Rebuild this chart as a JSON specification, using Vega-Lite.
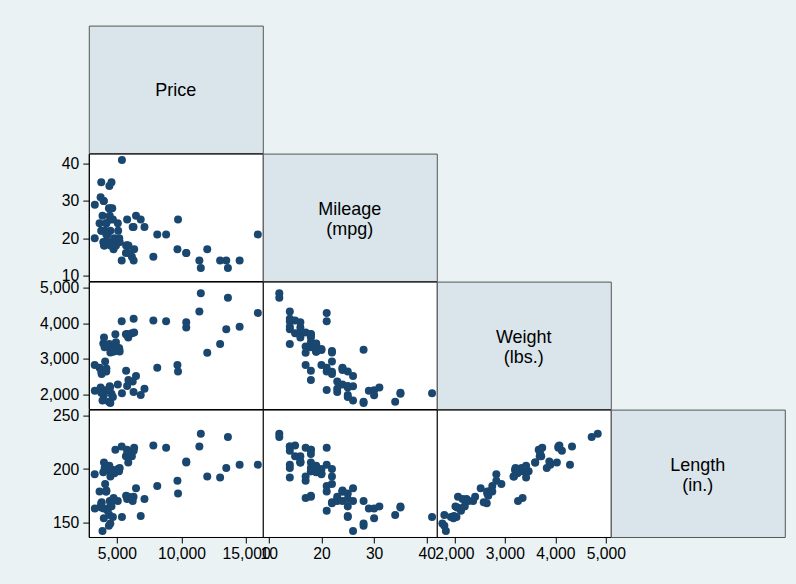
{
  "$schema": "https://vega.github.io/schema/vega-lite/v6.json",
  "background": "#eaf2f3",
  "padding": {"left": 38.8, "top": 24.6, "right": 12, "bottom": 24},
  "columns": 4,
  "spacing": 0,
  "bounds": "flush",
  "datasets": {
    "auto": [
      {"make": "AMC Concord", "price": 4099, "mpg": 22, "weight": 2930, "length": 186},
      {"make": "AMC Pacer", "price": 4749, "mpg": 17, "weight": 3350, "length": 173},
      {"make": "AMC Spirit", "price": 3799, "mpg": 22, "weight": 2640, "length": 168},
      {"make": "Buick Century", "price": 4816, "mpg": 20, "weight": 3250, "length": 196},
      {"make": "Buick Electra", "price": 7827, "mpg": 15, "weight": 4080, "length": 222},
      {"make": "Buick LeSabre", "price": 5788, "mpg": 18, "weight": 3670, "length": 218},
      {"make": "Buick Opel", "price": 4453, "mpg": 26, "weight": 2230, "length": 170},
      {"make": "Buick Regal", "price": 5189, "mpg": 20, "weight": 3280, "length": 200},
      {"make": "Buick Riviera", "price": 10372, "mpg": 16, "weight": 3880, "length": 207},
      {"make": "Buick Skylark", "price": 4082, "mpg": 19, "weight": 3400, "length": 200},
      {"make": "Cad. Deville", "price": 11385, "mpg": 14, "weight": 4330, "length": 221},
      {"make": "Cad. Eldorado", "price": 14500, "mpg": 14, "weight": 3900, "length": 204},
      {"make": "Cad. Seville", "price": 15906, "mpg": 21, "weight": 4290, "length": 204},
      {"make": "Chev. Chevette", "price": 3299, "mpg": 29, "weight": 2110, "length": 163},
      {"make": "Chev. Impala", "price": 5705, "mpg": 16, "weight": 3690, "length": 212},
      {"make": "Chev. Malibu", "price": 4504, "mpg": 22, "weight": 3180, "length": 193},
      {"make": "Chev. Monte Carlo", "price": 5104, "mpg": 22, "weight": 3220, "length": 200},
      {"make": "Chev. Monza", "price": 3667, "mpg": 24, "weight": 2750, "length": 179},
      {"make": "Chev. Nova", "price": 3955, "mpg": 19, "weight": 3430, "length": 197},
      {"make": "Dodge Colt", "price": 3984, "mpg": 30, "weight": 2120, "length": 163},
      {"make": "Dodge Diplomat", "price": 4010, "mpg": 18, "weight": 3600, "length": 206},
      {"make": "Dodge Magnum", "price": 5886, "mpg": 16, "weight": 3600, "length": 206},
      {"make": "Dodge St. Regis", "price": 6342, "mpg": 17, "weight": 3740, "length": 220},
      {"make": "Ford Fiesta", "price": 4389, "mpg": 28, "weight": 1800, "length": 147},
      {"make": "Ford Mustang", "price": 4187, "mpg": 21, "weight": 2650, "length": 179},
      {"make": "Linc. Continental", "price": 11497, "mpg": 12, "weight": 4840, "length": 233},
      {"make": "Linc. Mark V", "price": 13594, "mpg": 12, "weight": 4720, "length": 230},
      {"make": "Linc. Versailles", "price": 13466, "mpg": 14, "weight": 3830, "length": 201},
      {"make": "Merc. Bobcat", "price": 3829, "mpg": 22, "weight": 2580, "length": 169},
      {"make": "Merc. Cougar", "price": 5379, "mpg": 14, "weight": 4060, "length": 221},
      {"make": "Merc. Marquis", "price": 6165, "mpg": 15, "weight": 3720, "length": 212},
      {"make": "Merc. Monarch", "price": 4516, "mpg": 18, "weight": 3370, "length": 198},
      {"make": "Merc. XR-7", "price": 6303, "mpg": 14, "weight": 4130, "length": 217},
      {"make": "Merc. Zephyr", "price": 3291, "mpg": 20, "weight": 2830, "length": 195},
      {"make": "Olds 98", "price": 8814, "mpg": 21, "weight": 4060, "length": 220},
      {"make": "Olds Cutl Supr", "price": 5172, "mpg": 19, "weight": 3310, "length": 198},
      {"make": "Olds Cutlass", "price": 4733, "mpg": 19, "weight": 3300, "length": 198},
      {"make": "Olds Delta 88", "price": 4890, "mpg": 18, "weight": 3690, "length": 218},
      {"make": "Olds Omega", "price": 4181, "mpg": 19, "weight": 3370, "length": 200},
      {"make": "Olds Starfire", "price": 4195, "mpg": 24, "weight": 2730, "length": 180},
      {"make": "Olds Toronado", "price": 10371, "mpg": 16, "weight": 4030, "length": 206},
      {"make": "Plym. Arrow", "price": 4647, "mpg": 28, "weight": 3260, "length": 170},
      {"make": "Plym. Champ", "price": 4425, "mpg": 34, "weight": 1800, "length": 157},
      {"make": "Plym. Horizon", "price": 4482, "mpg": 25, "weight": 2200, "length": 165},
      {"make": "Plym. Sapporo", "price": 6486, "mpg": 26, "weight": 2520, "length": 182},
      {"make": "Plym. Volare", "price": 4060, "mpg": 18, "weight": 3330, "length": 201},
      {"make": "Pont. Catalina", "price": 5798, "mpg": 18, "weight": 3700, "length": 214},
      {"make": "Pont. Firebird", "price": 4934, "mpg": 18, "weight": 3470, "length": 198},
      {"make": "Pont. Grand Prix", "price": 5222, "mpg": 19, "weight": 3210, "length": 201},
      {"make": "Pont. Le Mans", "price": 4723, "mpg": 19, "weight": 3200, "length": 199},
      {"make": "Pont. Phoenix", "price": 4424, "mpg": 19, "weight": 3420, "length": 203},
      {"make": "Pont. Sunbird", "price": 4172, "mpg": 24, "weight": 2690, "length": 179},
      {"make": "Audi 5000", "price": 9690, "mpg": 17, "weight": 2830, "length": 189},
      {"make": "Audi Fox", "price": 6295, "mpg": 23, "weight": 2070, "length": 174},
      {"make": "BMW 320i", "price": 9735, "mpg": 25, "weight": 2650, "length": 177},
      {"make": "Datsun 200", "price": 6229, "mpg": 23, "weight": 2370, "length": 170},
      {"make": "Datsun 210", "price": 4589, "mpg": 35, "weight": 2020, "length": 165},
      {"make": "Datsun 510", "price": 5079, "mpg": 24, "weight": 2280, "length": 170},
      {"make": "Datsun 810", "price": 8129, "mpg": 21, "weight": 2750, "length": 184},
      {"make": "Fiat Strada", "price": 4296, "mpg": 21, "weight": 2130, "length": 161},
      {"make": "Honda Accord", "price": 5799, "mpg": 25, "weight": 2240, "length": 172},
      {"make": "Honda Civic", "price": 4499, "mpg": 28, "weight": 1760, "length": 149},
      {"make": "Mazda GLC", "price": 3995, "mpg": 30, "weight": 1980, "length": 154},
      {"make": "Peugeot 604", "price": 12990, "mpg": 14, "weight": 3420, "length": 192},
      {"make": "Renault Le Car", "price": 3895, "mpg": 26, "weight": 1830, "length": 142},
      {"make": "Subaru", "price": 3798, "mpg": 35, "weight": 2050, "length": 164},
      {"make": "Toyota Celica", "price": 5899, "mpg": 18, "weight": 2410, "length": 174},
      {"make": "Toyota Corolla", "price": 3748, "mpg": 31, "weight": 2200, "length": 165},
      {"make": "Toyota Corona", "price": 5719, "mpg": 18, "weight": 2670, "length": 175},
      {"make": "VW Dasher", "price": 7140, "mpg": 23, "weight": 2160, "length": 172},
      {"make": "VW Diesel", "price": 5397, "mpg": 41, "weight": 2040, "length": 155},
      {"make": "VW Rabbit", "price": 4697, "mpg": 25, "weight": 1930, "length": 155},
      {"make": "VW Scirocco", "price": 6850, "mpg": 25, "weight": 1990, "length": 156},
      {"make": "Volvo 260", "price": 11995, "mpg": 17, "weight": 3170, "length": 193}
    ],
    "labels": [
      {"var": "price", "label": "Price"},
      {"var": "mpg", "label": "Mileage\n(mpg)"},
      {"var": "weight", "label": "Weight\n(lbs.)"},
      {"var": "length", "label": "Length\n(in.)"}
    ]
  },
  "concat": [
    {"data": {"name": "labels"}, "transform": [{"filter": "datum.var === 'price'"}], "width": 174, "height": 127.4,
     "mark": {"type": "text", "fontSize": 18, "font": "Liberation Sans", "lineBreak": "\n", "lineHeight": 20, "color": "black", "dy": 1.5},
     "encoding": {"text": {"field": "label", "type": "nominal"}},
     "view": {"fill": "#d9e5eb", "stroke": "#555555"}},
    {"data": {"values": []}, "width": 174, "height": 127.4, "mark": "point", "view": {"stroke": null, "fill": null}},
    {"data": {"values": []}, "width": 174, "height": 127.4, "mark": "point", "view": {"stroke": null, "fill": null}},
    {"data": {"values": []}, "width": 174, "height": 127.4, "mark": "point", "view": {"stroke": null, "fill": null}},

    {"data": {"name": "auto"}, "width": 174, "height": 127.4,
     "mark": {"type": "circle", "size": 64, "color": "#1a476f", "opacity": 1},
     "encoding": {
       "x": {"field": "price", "type": "quantitative", "scale": {"domain": [2835, 16291], "nice": false, "zero": false}, "axis": null},
       "y": {"field": "mpg", "type": "quantitative", "scale": {"domain": [8.5, 42.7], "nice": false, "zero": false}, "axis": {"title": null, "values": [10, 20, 30, 40], "format": "d"}}
     },
     "view": {"fill": "white", "stroke": "black"}},
    {"data": {"name": "labels"}, "transform": [{"filter": "datum.var === 'mpg'"}], "width": 174, "height": 127.4,
     "mark": {"type": "text", "fontSize": 18, "font": "Liberation Sans", "lineBreak": "\n", "lineHeight": 20, "color": "black", "dy": -7.5},
     "encoding": {"text": {"field": "label", "type": "nominal"}},
     "view": {"fill": "#d9e5eb", "stroke": "#555555"}},
    {"data": {"values": []}, "width": 174, "height": 127.4, "mark": "point", "view": {"stroke": null, "fill": null}},
    {"data": {"values": []}, "width": 174, "height": 127.4, "mark": "point", "view": {"stroke": null, "fill": null}},

    {"data": {"name": "auto"}, "width": 174, "height": 127.4,
     "mark": {"type": "circle", "size": 64, "color": "#1a476f", "opacity": 1},
     "encoding": {
       "x": {"field": "price", "type": "quantitative", "scale": {"domain": [2835, 16291], "nice": false, "zero": false}, "axis": null},
       "y": {"field": "weight", "type": "quantitative", "scale": {"domain": [1595, 5170], "nice": false, "zero": false}, "axis": {"title": null, "values": [2000, 3000, 4000, 5000], "format": ",d"}}
     },
     "view": {"fill": "white", "stroke": "black"}},
    {"data": {"name": "auto"}, "width": 174, "height": 127.4,
     "mark": {"type": "circle", "size": 64, "color": "#1a476f", "opacity": 1},
     "encoding": {
       "x": {"field": "mpg", "type": "quantitative", "scale": {"domain": [8.87, 41.9], "nice": false, "zero": false}, "axis": null},
       "y": {"field": "weight", "type": "quantitative", "scale": {"domain": [1595, 5170], "nice": false, "zero": false}, "axis": null}
     },
     "view": {"fill": "white", "stroke": "black"}},
    {"data": {"name": "labels"}, "transform": [{"filter": "datum.var === 'weight'"}], "width": 174, "height": 127.4,
     "mark": {"type": "text", "fontSize": 18, "font": "Liberation Sans", "lineBreak": "\n", "lineHeight": 20, "color": "black", "dy": -7},
     "encoding": {"text": {"field": "label", "type": "nominal"}},
     "view": {"fill": "#d9e5eb", "stroke": "#555555"}},
    {"data": {"values": []}, "width": 174, "height": 127.4, "mark": "point", "view": {"stroke": null, "fill": null}},

    {"data": {"name": "auto"}, "width": 174, "height": 127.4,
     "mark": {"type": "circle", "size": 64, "color": "#1a476f", "opacity": 1},
     "encoding": {
       "x": {"field": "price", "type": "quantitative", "scale": {"domain": [2835, 16291], "nice": false, "zero": false}, "axis": {"title": null, "values": [5000, 10000, 15000], "format": ",d"}},
       "y": {"field": "length", "type": "quantitative", "scale": {"domain": [136.4, 255.6], "nice": false, "zero": false}, "axis": {"title": null, "values": [150, 200, 250], "format": "d"}}
     },
     "view": {"fill": "white", "stroke": "black"}},
    {"data": {"name": "auto"}, "width": 174, "height": 127.4,
     "mark": {"type": "circle", "size": 64, "color": "#1a476f", "opacity": 1},
     "encoding": {
       "x": {"field": "mpg", "type": "quantitative", "scale": {"domain": [8.87, 41.9], "nice": false, "zero": false}, "axis": {"title": null, "values": [10, 20, 30, 40], "format": "d"}},
       "y": {"field": "length", "type": "quantitative", "scale": {"domain": [136.4, 255.6], "nice": false, "zero": false}, "axis": null}
     },
     "view": {"fill": "white", "stroke": "black"}},
    {"data": {"name": "auto"}, "width": 174, "height": 127.4,
     "mark": {"type": "circle", "size": 64, "color": "#1a476f", "opacity": 1},
     "encoding": {
       "x": {"field": "weight", "type": "quantitative", "scale": {"domain": [1650, 5099], "nice": false, "zero": false}, "axis": {"title": null, "values": [2000, 3000, 4000, 5000], "format": ",d"}},
       "y": {"field": "length", "type": "quantitative", "scale": {"domain": [136.4, 255.6], "nice": false, "zero": false}, "axis": null}
     },
     "view": {"fill": "white", "stroke": "black"}},
    {"data": {"name": "labels"}, "transform": [{"filter": "datum.var === 'length'"}], "width": 174, "height": 127.4,
     "mark": {"type": "text", "fontSize": 18, "font": "Liberation Sans", "lineBreak": "\n", "lineHeight": 20, "color": "black", "dy": -7},
     "encoding": {"text": {"field": "label", "type": "nominal"}},
     "view": {"fill": "#d9e5eb", "stroke": "#555555"}}
  ],
  "config": {
    "font": "Liberation Sans",
    "view": {"stroke": "black"},
    "axis": {
      "labelFont": "Liberation Sans",
      "labelFontSize": 15.7,
      "labelColor": "black",
      "tickColor": "black",
      "domainColor": "black",
      "tickSize": 6,
      "labelPadding": 4,
      "grid": false,
      "labelFlush": false,
      "labelOverlap": false
    }
  }
}
